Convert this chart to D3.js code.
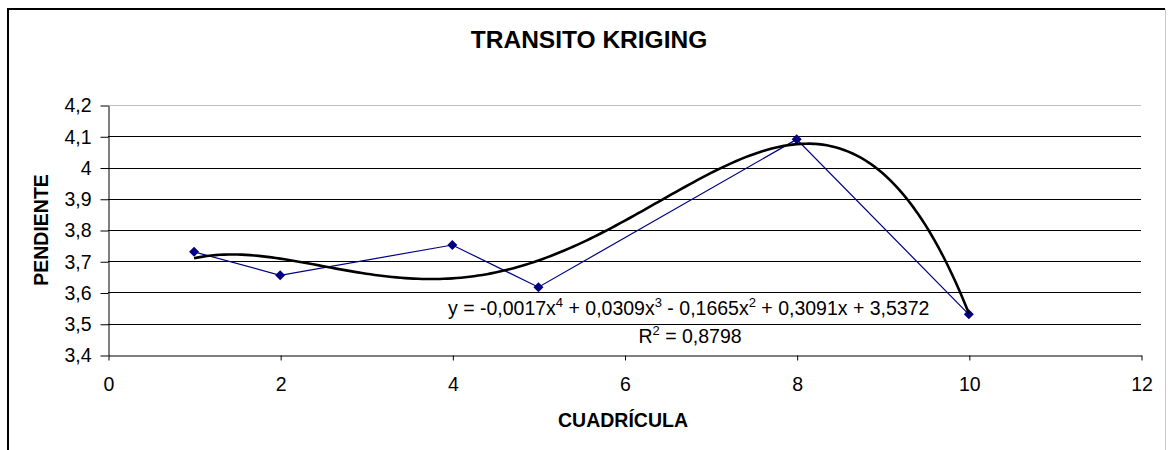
<!DOCTYPE html>
<html>
<head>
<meta charset="utf-8">
<script src="https://cdn.jsdelivr.net/npm/d3@7"></script>
<style>
body { margin: 0; background: #fff; }
text { font-family: "Liberation Sans", Arial, sans-serif; fill: #000; }
</style>
</head>
<body>
<div class="chart"></div>
<script>
var width = 1168,
	height = 450;

// data
var cuadricula = [1, 2, 4, 5, 8, 10];
var pendiente = [3.73, 3.655, 3.752, 3.617, 4.09, 3.53];
var xTicks = [0, 2, 4, 6, 8, 10, 12];
var yTicks = [3.4, 3.5, 3.6, 3.7, 3.8, 3.9, 4.0, 4.1, 4.2];
var titulo = "TRANSITO KRIGING";
var ejeX = "CUADRÍCULA";
var ejeY = "PENDIENTE";
// equation label pieces: [text, superscript]
var ecuacion = [["y = -0,0017x", "4"], [" + 0,0309x", "3"], [" - 0,1665x", "2"], [" + 0,3091x + 3,5372", ""]];
var r2 = [["R", "2"], [" = 0,8798", ""]];

var svg = d3.select(".chart").append("svg").attr("width", width).attr("height", height);

var x = d3.scaleLinear().domain([0, 12]).range([108, 1141]);
var y = d3.scaleLinear().domain([3.4, 4.2]).range([355, 105]);
var fmt = function(d){ return (+d.toFixed(1)).toString().replace(".", ","); };

// chart border
svg.append("line").attr("x1", 8).attr("y1", 9).attr("x2", 8).attr("y2", height).attr("stroke", "#000").attr("stroke-width", 2);
svg.append("line").attr("x1", 7).attr("y1", 9).attr("x2", 1165).attr("y2", 9).attr("stroke", "#000").attr("stroke-width", 2);
svg.append("line").attr("x1", 1165.5).attr("y1", 9).attr("x2", 1165.5).attr("y2", height).attr("stroke", "#c8c8c8").attr("stroke-width", 1);

// gridlines
svg.append("g").selectAll("line").data(yTicks.slice(1)).enter().append("line")
	.attr("x1", x(0)).attr("x2", x(12))
	.attr("y1", function(d){ return Math.round(y(d)) + 0.5; })
	.attr("y2", function(d){ return Math.round(y(d)) + 0.5; })
	.attr("stroke", function(d){ return d === 4.2 ? "#c0c0c0" : "#000"; })
	.attr("stroke-width", 1);

// axes
var gy = svg.append("g").attr("transform", "translate(" + (x(0) + 0.5) + ",0.5)")
	.call(d3.axisLeft(y).tickValues(yTicks).tickSize(8).tickSizeOuter(0).tickPadding(9).tickFormat(fmt));
var gx = svg.append("g").attr("transform", "translate(0.5," + (Math.round(y(3.4)) + 0.5) + ")")
	.call(d3.axisBottom(x).tickValues(xTicks).tickSize(5).tickSizeOuter(0).tickPadding(17).tickFormat(fmt));
svg.selectAll(".tick text").style("font-size", "19.5px").style("font-family", "'Liberation Sans', Arial, sans-serif");
svg.selectAll(".domain, .tick line").attr("stroke", "#000");

// series
var pts = cuadricula.map(function(d, i){ return [d, pendiente[i]]; });
var line = d3.line().x(function(d){ return x(d[0]); }).y(function(d){ return y(d[1]); });
svg.append("path").datum(pts).attr("d", line).attr("fill", "none").attr("stroke", "#000080").attr("stroke-width", 1.2);
svg.append("g").selectAll("path").data(pts).enter().append("path")
	.attr("d", d3.symbol().type(d3.symbolSquare).size(50))
	.attr("transform", function(d){ return "translate(" + x(d[0]) + "," + y(d[1]) + ") rotate(45)"; })
	.attr("fill", "#000080");

// polynomial trendline (order 4, least squares on the series)
function polyFit(xs, ys, order){
	var n = order + 1, A = [], b = [];
	for (var i = 0; i < n; i++){
		A.push([]);
		for (var j = 0; j < n; j++){
			A[i].push(d3.sum(xs, function(v){ return Math.pow(v, i + j); }));
		}
		b.push(d3.sum(xs, function(v, k){ return ys[k] * Math.pow(v, i); }));
	}
	for (var c = 0; c < n; c++){
		var p = c;
		for (var r = c + 1; r < n; r++) if (Math.abs(A[r][c]) > Math.abs(A[p][c])) p = r;
		var t = A[c]; A[c] = A[p]; A[p] = t;
		var tb = b[c]; b[c] = b[p]; b[p] = tb;
		for (var r2i = c + 1; r2i < n; r2i++){
			var f = A[r2i][c] / A[c][c];
			for (var k = c; k < n; k++) A[r2i][k] -= f * A[c][k];
			b[r2i] -= f * b[c];
		}
	}
	var coef = new Array(n).fill(0);
	for (var ri = n - 1; ri >= 0; ri--){
		var s = b[ri];
		for (var kk = ri + 1; kk < n; kk++) s -= A[ri][kk] * coef[kk];
		coef[ri] = s / A[ri][ri];
	}
	return coef;
}
var coef = polyFit(cuadricula, pendiente, 4);
var trend = d3.range(1, 10.0001, 0.05).map(function(v){
	return [v, d3.sum(coef, function(c, i){ return c * Math.pow(v, i); })];
});
svg.append("path").datum(trend).attr("d", line).attr("fill", "none").attr("stroke", "#000").attr("stroke-width", 2.6);

// equation label with superscripts
function richText(node, parts){
	var raised = false;
	parts.forEach(function(p){
		node.append("tspan").attr("dy", raised ? 8 : 0).text(p[0]);
		raised = false;
		if (p[1]){
			node.append("tspan").attr("dy", -8).style("font-size", "13px").text(p[1]);
			raised = true;
		}
	});
}
var eq = svg.append("text").attr("x", 448).attr("y", 315).style("font-size", "19.5px");
richText(eq, ecuacion);
var rt = svg.append("text").attr("x", 690).attr("y", 343).attr("text-anchor", "middle").style("font-size", "19.5px");
richText(rt, r2);

// titles
svg.append("text").attr("x", 589).attr("y", 48).attr("text-anchor", "middle")
	.style("font-size", "24.5px").style("font-weight", "bold").text(titulo);
svg.append("text").attr("x", 623).attr("y", 427).attr("text-anchor", "middle")
	.style("font-size", "19.5px").style("font-weight", "bold").text(ejeX);
svg.append("text").attr("transform", "translate(48," + y(3.8) + ") rotate(-90)").attr("text-anchor", "middle")
	.style("font-size", "19.5px").style("font-weight", "bold").text(ejeY);
</script>
</body>
</html>
